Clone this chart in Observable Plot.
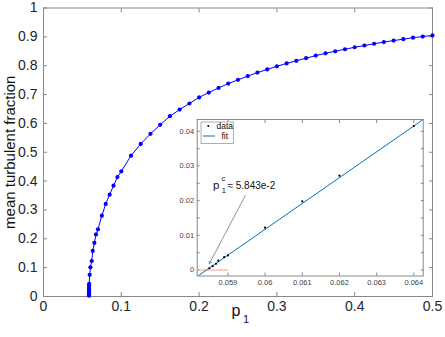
<!DOCTYPE html>
<html>
<head>
<meta charset="utf-8">
<script src="https://cdn.jsdelivr.net/npm/d3@7"></script>
<script src="https://cdn.jsdelivr.net/npm/@observablehq/plot@0.6"></script>
<style>
  body { margin: 0; background: white; }
  #wrap { position: relative; width: 445px; height: 337px; }
  #inset { position: absolute; left: 160px; top: 110px; }
  svg { background: transparent !important; }
</style>
</head>
<body>
<div id="wrap"><div id="main"></div><div id="inset"></div></div>
<script>
// ---- main curve data ----
const mainP = [0.05845, 0.05848, 0.0585, 0.05852, 0.05855, 0.05858, 0.0586, 0.05865, 0.0587,
  0.0594, 0.0603, 0.062, 0.0633, 0.0654, 0.0675, 0.07, 0.075, 0.08, 0.085, 0.09, 0.095, 0.1,
  0.1125, 0.125, 0.1375, 0.15, 0.1625, 0.175, 0.1875, 0.2, 0.2125, 0.225,
  0.2375, 0.25, 0.2625, 0.275, 0.2875, 0.3, 0.3125, 0.325, 0.3375, 0.35, 0.3625,
  0.375, 0.3875, 0.4, 0.4125, 0.425, 0.4375, 0.45, 0.4625, 0.475, 0.4875, 0.5];
const mainV = [0.003, 0.008, 0.013, 0.018, 0.023, 0.028, 0.033, 0.038, 0.044,
  0.075, 0.101, 0.123, 0.158, 0.186, 0.215, 0.233, 0.280, 0.321, 0.353, 0.384, 0.414, 0.434,
  0.488, 0.529, 0.564, 0.595, 0.625, 0.648, 0.669, 0.690, 0.707, 0.723,
  0.738, 0.751, 0.764, 0.776, 0.787, 0.798, 0.808, 0.817, 0.826, 0.835, 0.843,
  0.850, 0.857, 0.864, 0.870, 0.876, 0.882, 0.887, 0.892, 0.897, 0.901, 0.905];
const xTicks = [0, 0.1, 0.2, 0.3, 0.4, 0.5];
const xTickLabels = ["0", "0.1", "0.2", "0.3", "0.4", "0.5"];
const yTicks = [0, 0.1, 0.2, 0.3, 0.4, 0.5, 0.6, 0.7, 0.8, 0.9, 1];
const yTickLabels = ["0", "0.1", "0.2", "0.3", "0.4", "0.5", "0.6", "0.7", "0.8", "0.9", "1"];

// ---- inset data ----
const insetP = [0.0585, 0.05859, 0.05868, 0.05874, 0.0589, 0.059, 0.06, 0.061, 0.062, 0.064];
const insetV = [0.0005, 0.0011, 0.0018, 0.0027, 0.0037, 0.0042, 0.0122, 0.0198, 0.0272, 0.0415];
const fitP = [0.05817, 0.06425];
const fitV = [-0.0019, 0.0434];
const zeroP = [0.05817, 0.059];
const zeroV = [0, 0];
const arrowFrom = [0.05947, 0.0215];
const arrowTo = [0.05850, 0.0018];
const insetXTicks = [0.059, 0.06, 0.061, 0.062, 0.063, 0.064];
const insetXTickLabels = ["0.059", "0.06", "0.061", "0.062", "0.063", "0.064"];
const insetYTicks = [0, 0.005, 0.01, 0.015, 0.02, 0.025, 0.03, 0.035, 0.04];
const insetYTickLabels = ["0", "", "0.01", "", "0.02", "", "0.03", "", "0.04"];
const legendLabels = ["data", "fit"];
const annotation = "≈ 5.843e-2";

const font = "'Liberation Sans', Arial, Helvetica, sans-serif";
const mainData = mainP.map((p, i) => ({p, v: mainV[i]}));

const main = Plot.plot({
  width: 445, height: 337,
  marginLeft: 43, marginRight: 13, marginTop: 7.5, marginBottom: 41,
  x: {domain: [0, 0.5]},
  y: {domain: [0, 1]},
  style: {fontFamily: font, fontSize: "14px", color: "#262626", background: "white"},
  marks: [
    Plot.frame({stroke: "#888", strokeWidth: 1}),
    Plot.axisX({ticks: xTicks, tickSize: -4, tickPadding: 9, stroke: "#888",
      tickFormat: (d, i) => xTickLabels[i], label: null, fontSize: 14}),
    Plot.axisX({anchor: "top", ticks: xTicks, tickSize: -4, stroke: "#888", tickFormat: () => "", label: null}),
    Plot.axisY({ticks: yTicks, tickSize: -4, tickPadding: 10, stroke: "#888",
      tickFormat: (d, i) => yTickLabels[i], label: null, fontSize: 14}),
    Plot.axisY({anchor: "right", ticks: yTicks, tickSize: -4, stroke: "#888", tickFormat: () => "", label: null}),
    Plot.line(mainData, {x: "p", y: "v", stroke: "#0000ff", strokeWidth: 1}),
    Plot.dot(mainData, {x: "p", y: "v", r: 2.1, fill: "#0000ff"}),
    Plot.text(["mean turbulent fraction"], {frameAnchor: "left", dx: -33, rotate: -90, textAnchor: "middle",
      fontSize: 15, fill: "#111"}),
    Plot.text(["p"], {frameAnchor: "bottom", dx: -2, dy: 19, fontSize: 16, fill: "#111"}),
    Plot.text(["1"], {frameAnchor: "bottom", dx: 8, dy: 26, fontSize: 11, fill: "#111"})
  ]
});
document.getElementById("main").appendChild(main);

// ---- inset ----
const insetData = insetP.map((p, i) => ({p, v: insetV[i]}));
const fitData = fitP.map((p, i) => ({p, v: fitV[i]}));
const zeroData = zeroP.map((p, i) => ({p, v: zeroV[i]}));
const inset = Plot.plot({
  width: 270, height: 185,
  marginLeft: 36.7, marginRight: 7.3, marginTop: 9, marginBottom: 19.5,
  x: {domain: [0.058174, 0.064252]},
  y: {domain: [-0.00173, 0.0434]},
  style: {fontFamily: font, fontSize: "7.5px", color: "#404040", background: "transparent"},
  marks: [
    Plot.frame({fill: "white", stroke: "#888"}),
    Plot.axisX({ticks: insetXTicks, tickSize: -3, tickPadding: 6.5, stroke: "#888",
      tickFormat: (d, i) => insetXTickLabels[i], label: null}),
    Plot.axisX({anchor: "top", ticks: insetXTicks, tickSize: -3, stroke: "#888", tickFormat: () => "", label: null}),
    Plot.axisY({ticks: insetYTicks, tickSize: -3, tickPadding: 6, stroke: "#888",
      tickFormat: (d, i) => insetYTickLabels[i], label: null}),
    Plot.axisY({anchor: "right", ticks: insetYTicks, tickSize: -3, stroke: "#888", tickFormat: () => "", label: null}),
    Plot.line(zeroData, {x: "p", y: "v", stroke: "#f0a080", strokeWidth: 1}),
    Plot.line(fitData, {x: "p", y: "v", stroke: "#0072BD", strokeWidth: 1, clip: true}),
    Plot.dot(insetData, {x: "p", y: "v", r: 1.1, fill: "black"}),
    Plot.arrow([0], {x1: () => arrowFrom[0], y1: () => arrowFrom[1], x2: () => arrowTo[0], y2: () => arrowTo[1],
      stroke: "#777", strokeWidth: 0.8, headLength: 5})
  ]
});
document.getElementById("inset").appendChild(inset);

// legend & annotation (decorations)
const svg = d3.select(inset);
const lg = svg.append("g").attr("font-family", font).attr("text-anchor", "start");
lg.append("rect").attr("x", 41).attr("y", 12).attr("width", 32.3).attr("height", 21.5)
  .attr("fill", "white").attr("stroke", "#999").attr("stroke-width", 0.8);
lg.append("circle").attr("cx", 48.3).attr("cy", 16).attr("r", 1).attr("fill", "black");
lg.append("text").attr("x", 56.5).attr("y", 19).attr("font-size", 8.5).attr("fill", "#111").text(legendLabels[0]);
lg.append("line").attr("x1", 43).attr("x2", 55).attr("y1", 26).attr("y2", 26).attr("stroke", "#0072BD").attr("stroke-width", 1);
lg.append("text").attr("x", 61.5).attr("y", 29).attr("font-size", 8.5).attr("fill", "#111").text(legendLabels[1]);

const an = svg.append("g").attr("font-family", font).attr("fill", "#111").attr("text-anchor", "start");
an.append("text").attr("x", 53).attr("y", 79).attr("font-size", 11.5).text("p");
an.append("text").attr("x", 61.5).attr("y", 71).attr("font-size", 7.5).text("c");
an.append("text").attr("x", 61.7).attr("y", 82.5).attr("font-size", 7.5).text("1");
an.append("text").attr("x", 67.5).attr("y", 79).attr("font-size", 10).text(annotation);
</script>
</body>
</html>
